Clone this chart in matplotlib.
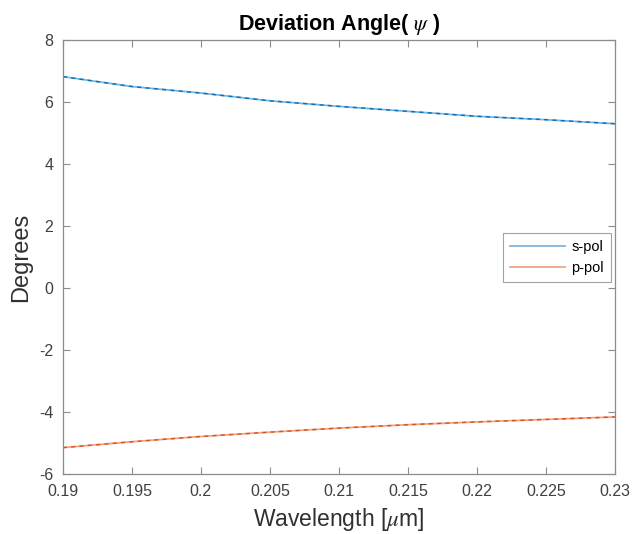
import matplotlib
matplotlib.use("Agg")
import matplotlib.pyplot as plt
import numpy as np

plt.rcParams['font.family'] = ['Liberation Sans', 'DejaVu Sans']
plt.rcParams['mathtext.fontset'] = 'stix'
plt.rcParams['axes.unicode_minus'] = False

# values
wavelength = [0.19, 0.195, 0.2, 0.205, 0.21, 0.215, 0.22, 0.225, 0.23]
s_pol = [6.82, 6.50, 6.29, 6.04, 5.86, 5.70, 5.54, 5.43, 5.30]
p_pol = [-5.15, -4.96, -4.79, -4.65, -4.52, -4.41, -4.32, -4.24, -4.16]

xticks = [0.19, 0.195, 0.2, 0.205, 0.21, 0.215, 0.22, 0.225, 0.23]
xticklabels = ['0.19', '0.195', '0.2', '0.205', '0.21', '0.215', '0.22', '0.225', '0.23']
yticks = [-6, -4, -2, 0, 2, 4, 6, 8]

blue = '#0072BD'
red = '#D95319'

fig = plt.figure(figsize=(6.35, 5.34), dpi=100)
ax = fig.add_axes([0.099, 0.1124, 0.8695, 0.8126])

ax.plot(wavelength, s_pol, color='#7fb4dd', lw=1.3, label='s-pol')
ax.plot(wavelength, s_pol, color=blue, lw=1.0, ls=(0, (3, 3)))
ax.plot(wavelength, p_pol, color='#f0a487', lw=1.3, label='p-pol')
ax.plot(wavelength, p_pol, color=red, lw=1.0, ls=(0, (3, 3)))

ax.set_xlim(0.19, 0.23)
ax.set_ylim(-6, 8)
ax.set_xticks(xticks)
ax.set_xticklabels(xticklabels)
ax.set_yticks(yticks)

for s in ax.spines.values():
    s.set_color('#8c8c8c')
    s.set_linewidth(0.9)
ax.tick_params(direction='in', top=True, right=True, length=5, width=0.8,
               color='#8c8c8c', labelcolor='#404040', labelsize=11.5, pad=7)

ax.set_title(r'Deviation Angle( $\psi$ )', fontsize=15.5, fontweight='bold', pad=7)
ax.set_xlabel(r'Wavelength [$\mu$m]', fontsize=16.5, color='#303030', labelpad=5)
ax.set_ylabel('Degrees', fontsize=17, color='#303030', labelpad=5)

leg = ax.legend(loc='center right', bbox_to_anchor=(0.993, 0.499), fontsize=10.5,
                frameon=True, fancybox=False, handlelength=3.8, borderpad=0.5,
                handletextpad=0.4, labelspacing=0.45, borderaxespad=0)
leg.get_frame().set_edgecolor('#8c8c8c')
leg.get_frame().set_linewidth(0.8)

fig.savefig('out.png', dpi=100)
